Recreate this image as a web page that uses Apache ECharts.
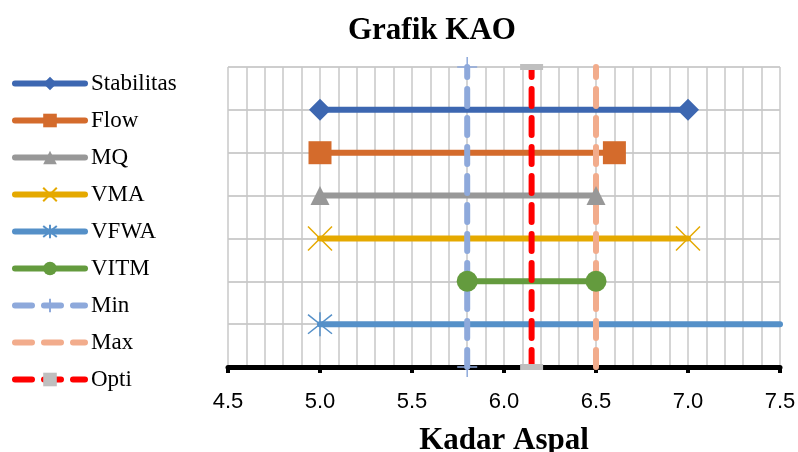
<!DOCTYPE html>
<html><head><meta charset="utf-8">
<script src="https://cdn.jsdelivr.net/npm/echarts@6/dist/echarts.min.js"></script>
<style>html,body{margin:0;padding:0;background:#fff}#c{width:798px;height:452px}</style>
</head><body><div id="c"></div>
<script>
// Data
var seriesNames = ['Stabilitas','Flow','MQ','VMA','VFWA','VITM','Min','Max','Opti'];
var rowLevel   = [6, 5, 4, 3, 1, 2];           // vertical row of each range series
var rangeStart = [5.0, 5.0, 5.0, 5.0, 5.0, 5.8];
var rangeEnd   = [7.0, 6.6, 6.5, 7.0, 7.5, 6.5];
var minValue = 5.8, maxValue = 6.5, optiValue = 6.15;
var xTicks = ['4.5','5.0','5.5','6.0','6.5','7.0','7.5'];

var colors = ['#3D67B1','#D46B2C','#989898','#E5A900','#5590C8','#649B3E','#8EA9DB','#F2AC8C','#FF0000'];
var symbols = ['diamond','rect','triangle','path://M0,0L10,10M10,0L0,10',
  'path://M5,0L5,10M1,1L9,9M9,1L1,9','circle'];
var symSizes = [22, 23, 19, 24, 24, 21];

var series = [];
for (var i = 0; i < 6; i++) {
  var isStroke = i === 3 || i === 4;
  var d = [[rangeStart[i], rowLevel[i]], [rangeEnd[i], rowLevel[i]]];
  if (i === 4) d[1] = {value: [rangeEnd[i], rowLevel[i]], symbolSize: 0};
  series.push({
    name: seriesNames[i], type: 'line', data: d,
    symbol: symbols[i], symbolSize: symSizes[i], showSymbol: true,
    lineStyle: {color: colors[i], width: 6, cap: 'round'},
    itemStyle: {color: colors[i], borderColor: colors[i], borderWidth: isStroke ? 1.5 : 0},
    clip: false, animation: false
  });
}
series.push({
  name: 'Min', type: 'line', data: [[minValue, 0], [minValue, 7]],
  symbol: 'path://M0,5L10,5M5,0L5,10', symbolSize: 20,
  lineStyle: {color: colors[6], width: 6, type: [17, 12], cap: 'round'},
  itemStyle: {color: colors[6], borderColor: colors[6], borderWidth: 1.5},
  clip: false, animation: false
});
series.push({
  name: 'Max', type: 'line', data: [[maxValue, 0], [maxValue, 7]],
  symbol: 'circle', symbolSize: 1,
  lineStyle: {color: colors[7], width: 6, type: [17, 12], cap: 'round'},
  itemStyle: {color: 'rgba(0,0,0,0)'},
  clip: false, animation: false
});
series.push({
  name: 'Opti', type: 'line', data: [[optiValue, 0], [optiValue, 7]],
  symbol: 'rect', symbolSize: [23, 6],
  lineStyle: {color: colors[8], width: 6, type: [17, 12], cap: 'round'},
  itemStyle: {color: '#BFBFBF'},
  clip: false, animation: false
});

var chart = echarts.init(document.getElementById('c'), null, {renderer: 'canvas'});
chart.setOption({
  animation: false,
  backgroundColor: '#fff',
  title: {text: 'Grafik KAO', left: 343, top: 10,
    textStyle: {fontFamily: 'Liberation Serif', fontWeight: 'bold', fontSize: 31, color: '#000'}},
  legend: {
    orient: 'vertical', left: 7, top: 67, itemWidth: 70, itemHeight: 17, itemGap: 14,
    data: seriesNames,
    lineStyle: {width: 6, cap: 'round'},
    textStyle: {fontFamily: 'Liberation Serif', fontSize: 23, color: '#000', padding: [0,0,0,1]}
  },
  grid: {left: 228, right: 18, top: 67, bottom: 85, containLabel: false, outerBoundsMode: 'none'},
  xAxis: {
    type: 'value', min: 4.5, max: 7.5, interval: 0.5,
    axisLine: {show: true, onZero: false, lineStyle: {color: '#000', width: 5}},
    axisTick: {show: true, length: 6, lineStyle: {color: '#000', width: 4}},
    axisLabel: {margin: 24, fontFamily: 'Liberation Sans', fontSize: 22, color: '#000',
      formatter: function (v) { return xTicks[Math.round((v - 4.5) / 0.5)]; }},
    splitLine: {show: true, lineStyle: {color: '#C8C8C8', width: 1.5}},
    minorTick: {show: false, splitNumber: 5},
    minorSplitLine: {show: true, lineStyle: {color: '#C8C8C8', width: 1.5}},
    name: 'Kadar Aspal', nameLocation: 'middle', nameGap: 58,
    nameTextStyle: {fontFamily: 'Liberation Serif', fontWeight: 'bold', fontSize: 31, color: '#000'}
  },
  yAxis: {
    type: 'value', min: 0, max: 7, interval: 1,
    axisLine: {show: false}, axisTick: {show: false}, axisLabel: {show: false},
    splitLine: {show: true, lineStyle: {color: '#BEBEBE', width: 1.5}}
  },
  series: series
});
</script></body></html>
